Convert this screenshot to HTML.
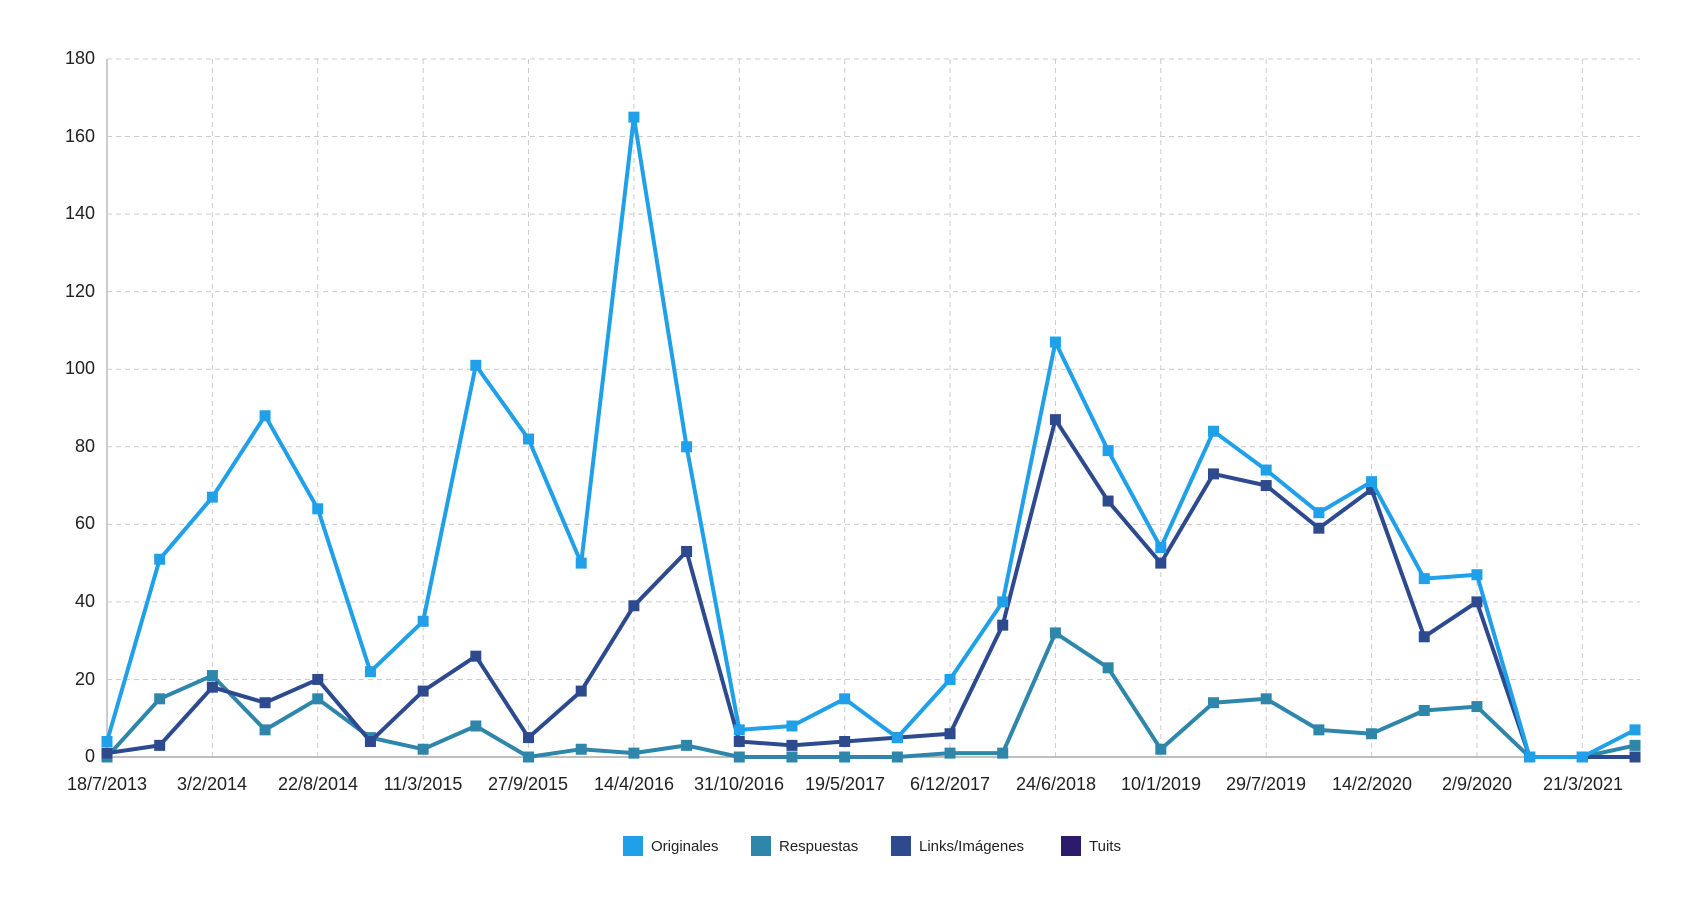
<!DOCTYPE html>
<html><head><meta charset="utf-8"><style>
html,body{margin:0;padding:0;background:#fff;width:1685px;height:919px;overflow:hidden}
svg text{font-family:"Liberation Sans",sans-serif;fill:#222}
</style></head><body>
<svg id="c" width="1685" height="919" xmlns="http://www.w3.org/2000/svg">
<g id="grid" stroke="#ccc" stroke-dasharray="5,4" stroke-width="1"></g>
<line x1="107" y1="59" x2="107" y2="757" stroke="#ccc" stroke-width="2"/>
<line x1="107" y1="757" x2="1640" y2="757" stroke="#aaa" stroke-width="1.5"/>
<g font-size="18" text-anchor="end">
<text x="95" y="64">180</text><text x="95" y="142">160</text><text x="95" y="219">140</text>
<text x="95" y="297">120</text><text x="95" y="374">100</text><text x="95" y="452">80</text>
<text x="95" y="529">60</text><text x="95" y="607">40</text><text x="95" y="685">20</text>
<text x="95" y="762">0</text>
</g>
<g font-size="18" text-anchor="middle">
<text x="107" y="790">18/7/2013</text><text x="212" y="790">3/2/2014</text>
<text x="318" y="790">22/8/2014</text><text x="423" y="790">11/3/2015</text>
<text x="528" y="790">27/9/2015</text><text x="634" y="790">14/4/2016</text>
<text x="739" y="790">31/10/2016</text><text x="845" y="790">19/5/2017</text>
<text x="950" y="790">6/12/2017</text><text x="1056" y="790">24/6/2018</text>
<text x="1161" y="790">10/1/2019</text><text x="1266" y="790">29/7/2019</text>
<text x="1372" y="790">14/2/2020</text><text x="1477" y="790">2/9/2020</text>
<text x="1583" y="790">21/3/2021</text>
</g>
<g id="series"></g>
<g font-size="15">
<rect x="623" y="836" width="20" height="20" fill="#1fa0e8"/><text x="651" y="851" fill="#555">Originales</text>
<rect x="751" y="836" width="20" height="20" fill="#2e86ab"/><text x="779" y="851" fill="#555">Respuestas</text>
<rect x="891" y="836" width="20" height="20" fill="#2e4a8f"/><text x="919" y="851" fill="#555">Links/Imágenes</text>
<rect x="1061" y="836" width="20" height="20" fill="#2c1a6b"/><text x="1089" y="851" fill="#555">Tuits</text>
</g>
</svg>
<script>
var X=function(i){return 107+i*52.69},Y=function(v){return 757-v*3.878};
var g=document.getElementById('grid'),s='';
for(var v=20;v<=180;v+=20)s+='<line x1="107" x2="1640" y1="'+Y(v)+'" y2="'+Y(v)+'"/>';
for(var i=2;i<=28;i+=2)s+='<line y1="59" y2="757" x1="'+X(i)+'" x2="'+X(i)+'"/>';
g.innerHTML=s;
var D=[
["#2e86ab",[0,15,21,7,15,5,2,8,0,2,1,3,0,0,0,0,1,1,32,23,2,14,15,7,6,12,13,0,0,3]],
["#2e4a8f",[1,3,18,14,20,4,17,26,5,17,39,53,4,3,4,5,6,34,87,66,50,73,70,59,69,31,40,0,0,0]],
["#1fa0e8",[4,51,67,88,64,22,35,101,82,50,165,80,7,8,15,5,20,40,107,79,54,84,74,63,71,46,47,0,0,7]]];
var o='';
D.forEach(function(d){var p=d[1].map(function(v,i){return X(i).toFixed(1)+','+Y(v).toFixed(1)}).join(' ');
o+='<polyline fill="none" stroke="'+d[0]+'" stroke-width="4" stroke-linejoin="round" points="'+p+'"/>';
d[1].forEach(function(v,i){o+='<rect x="'+(X(i)-5.5)+'" y="'+(Y(v)-5.5)+'" width="11" height="11" fill="'+d[0]+'"/>'});});
document.getElementById('series').innerHTML=o;
</script>
</body></html>
